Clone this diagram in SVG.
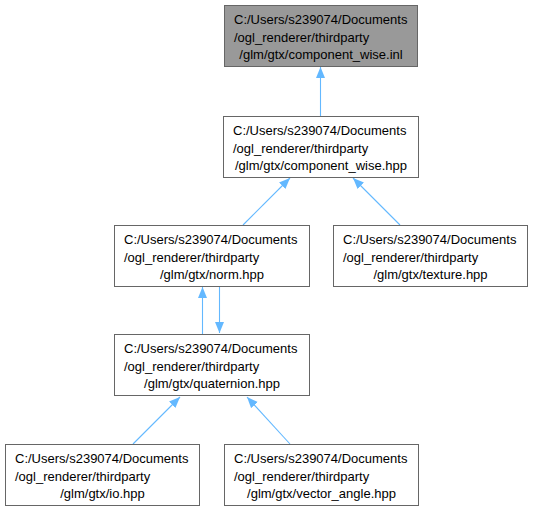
<svg xmlns="http://www.w3.org/2000/svg" width="533" height="511" viewBox="0 0 533 511">
<style>
.box{fill:#ffffff;stroke:#666666;stroke-width:1}
.root{fill:#999999;stroke:#666666;stroke-width:1}
text{font-family:"Liberation Sans",Arial,sans-serif;font-size:13px;fill:#000000}
.e{stroke:#63b8ff;stroke-width:1.1;fill:none;marker-end:url(#ah)}
</style>
<defs>
<marker id="ah" markerUnits="userSpaceOnUse" markerWidth="12" markerHeight="10" refX="11" refY="4.5" orient="auto">
<path d="M0,0 L11,4.5 L0,9 z" fill="#63b8ff"/>
</marker>
</defs>
<rect width="533" height="511" fill="#ffffff"/>
<g id="connectors">
<line class="e" x1="320.5" y1="116" x2="320.5" y2="67"/>
<line class="e" x1="243" y1="225" x2="290" y2="178"/>
<line class="e" x1="400" y1="225" x2="353" y2="178"/>
<line class="e" x1="202.5" y1="334" x2="202.5" y2="287"/>
<line class="e" x1="219.5" y1="286" x2="219.5" y2="333"/>
<line class="e" x1="133" y1="444" x2="180" y2="397"/>
<line class="e" x1="290" y1="444" x2="247" y2="397"/>
</g>
<g id="node_component_wise_inl">
<rect class="root" x="224.5" y="5.5" width="193" height="61"/>
<text x="234" y="24">C:/Users/s239074/Documents</text>
<text x="234" y="41.5">/ogl_renderer/thirdparty</text>
<text x="321" y="59" text-anchor="middle">/glm/gtx/component_wise.inl</text>
</g>
<g id="node_component_wise_hpp">
<rect class="box" x="223.5" y="116.5" width="195" height="61"/>
<text x="233" y="135">C:/Users/s239074/Documents</text>
<text x="233" y="152.5">/ogl_renderer/thirdparty</text>
<text x="321" y="170" text-anchor="middle">/glm/gtx/component_wise.hpp</text>
</g>
<g id="node_norm">
<rect class="box" x="114.5" y="225.5" width="195" height="61"/>
<text x="124" y="244">C:/Users/s239074/Documents</text>
<text x="124" y="261.5">/ogl_renderer/thirdparty</text>
<text x="212" y="279" text-anchor="middle">/glm/gtx/norm.hpp</text>
</g>
<g id="node_texture">
<rect class="box" x="333.5" y="225.5" width="194" height="61"/>
<text x="343" y="244">C:/Users/s239074/Documents</text>
<text x="343" y="261.5">/ogl_renderer/thirdparty</text>
<text x="430.5" y="279" text-anchor="middle">/glm/gtx/texture.hpp</text>
</g>
<g id="node_quaternion">
<rect class="box" x="114.5" y="334.5" width="195" height="61"/>
<text x="124" y="353">C:/Users/s239074/Documents</text>
<text x="124" y="370.5">/ogl_renderer/thirdparty</text>
<text x="212" y="388" text-anchor="middle">/glm/gtx/quaternion.hpp</text>
</g>
<g id="node_io">
<rect class="box" x="5.5" y="444.5" width="194" height="61"/>
<text x="15" y="463">C:/Users/s239074/Documents</text>
<text x="15" y="480.5">/ogl_renderer/thirdparty</text>
<text x="102.5" y="498" text-anchor="middle">/glm/gtx/io.hpp</text>
</g>
<g id="node_vector_angle">
<rect class="box" x="224.5" y="444.5" width="194" height="61"/>
<text x="234" y="463">C:/Users/s239074/Documents</text>
<text x="234" y="480.5">/ogl_renderer/thirdparty</text>
<text x="321.5" y="498" text-anchor="middle">/glm/gtx/vector_angle.hpp</text>
</g>
</svg>
